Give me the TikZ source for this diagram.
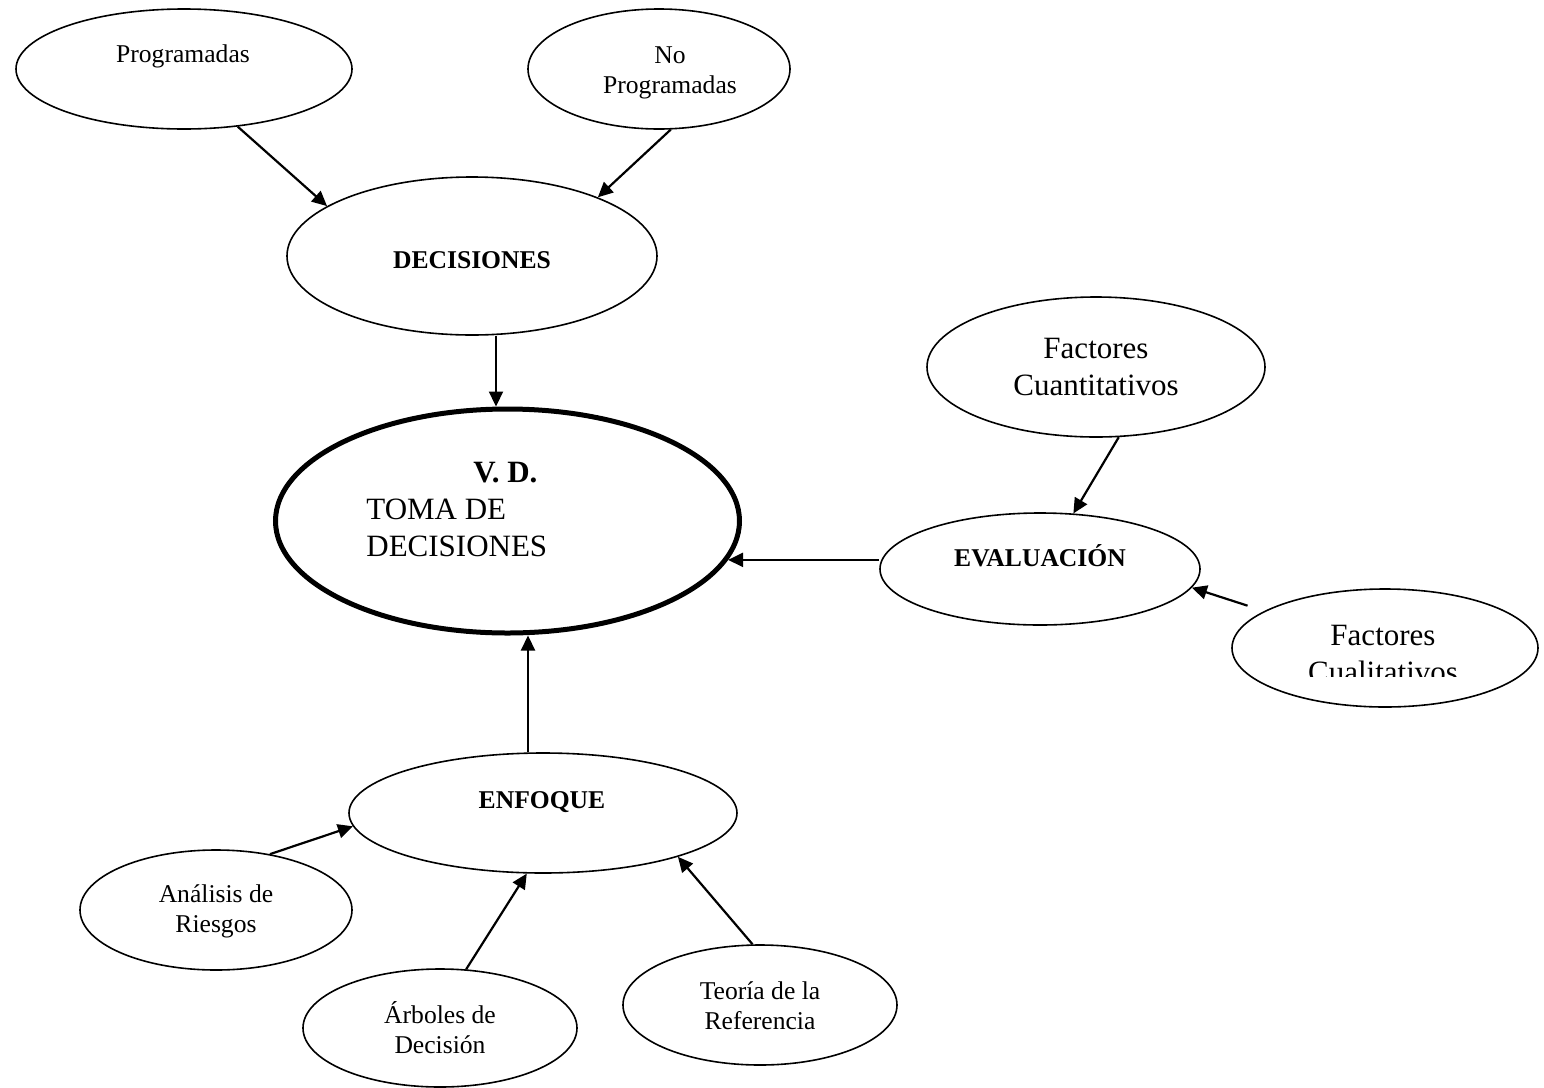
\documentclass[tikz,border=0pt]{standalone}
\usepackage{fontspec}
\setmainfont{Liberation Serif}
\usetikzlibrary{shapes.geometric,arrows.meta}

% two centred lines whose baseline is the first line's baseline
\newcommand\twolines[2]{\begin{tabular}[t]{@{}c@{}}#1\\#2\end{tabular}}

\tikzset{
  oval/.style={draw, ellipse, line width=0.8pt, inner sep=0pt},
  arr/.style={-{Triangle[length=7.5pt,width=7pt]}, line width=1.1pt},
  smalltxt/.style={font=\fontsize{12.8}{15}\selectfont, anchor=base, inner sep=0pt},
  bigtxt/.style={font=\fontsize{15.5}{18.5}\selectfont, anchor=base, inner sep=0pt},
}

\begin{document}
\begin{tikzpicture}[x=0.5pt, y=-0.5pt]
  \fill[white] (0,0) rectangle (1544,1088);
  \useasboundingbox (0,0) rectangle (1544,1088);

  % ellipses (minimum width/height in pt = radii in units)
  \node[oval, minimum width=168pt, minimum height=60pt] (prog)   at (184,69)   {};
  \node[oval, minimum width=131pt, minimum height=60pt] (noprog) at (659,69)   {};
  \node[oval, minimum width=185pt, minimum height=79pt] (dec)    at (472,256)  {};
  \node[oval, line width=2.5pt, minimum width=232pt, minimum height=112pt] (vd) at (507.5,521) {};
  \node[oval, minimum width=169pt, minimum height=70pt] (cuant)  at (1096,367) {};
  \node[oval, minimum width=160pt, minimum height=56pt] (eval)   at (1040,569) {};
  \node[oval, minimum width=153pt, minimum height=59pt] (cual)   at (1385,648) {};
  \node[oval, minimum width=194pt, minimum height=60pt] (enf)    at (543,813)  {};
  \node[oval, minimum width=136pt, minimum height=60pt] (anal)   at (216,910)  {};
  \node[oval, minimum width=137pt, minimum height=59pt] (arb)    at (440,1028) {};
  \node[oval, minimum width=137pt, minimum height=60pt] (teo)    at (760,1005) {};

  % texts
  \node[smalltxt] (progT)   at (183,62)   {Programadas};
  \node[smalltxt] (noprogT) at (670,63)   {\twolines{No}{Programadas}};
  \node[smalltxt] (decT)    at (472,268)  {\textbf{DECISIONES}};
  \node[bigtxt, anchor=base west] (vdT) at (366,482)
    {\begin{tabular}[t]{@{}l@{}}\hspace*{53.5pt}\textbf{V. D.}\\TOMA DE\\DECISIONES\end{tabular}};
  \node[bigtxt]   (cuantT)  at (1096,358) {\twolines{Factores}{Cuantitativos}};
  \node[smalltxt] (evalT)   at (1040,566) {\textbf{EVALUACIÓN}};
  \begin{scope}
    \clip (1232,583) rectangle (1538,676);
    \node[bigtxt] (cualT)   at (1383,645) {\twolines{Factores}{Cualitativos}};
  \end{scope}
  \node[smalltxt] (enfT)    at (542,808)  {\textbf{ENFOQUE}};
  \node[smalltxt] (analT)   at (216,902)  {\twolines{Análisis de}{Riesgos}};
  \node[smalltxt] (arbT)    at (440,1023) {\twolines{Árboles de}{Decisión}};
  \node[smalltxt] (teoT)    at (760,999)  {\twolines{Teoría de la}{Referencia}};

  % connectors
  \draw[arr] (prog.-47.4) -- (dec.161);
  \draw[arr] (noprog.-79) -- (dec.25.2);
  \draw[arr] ([xshift=12pt]dec.south) -- ([xshift=12pt]dec.south |- vd.north);
  \draw[arr] (eval.west |- vd.-10.6) -- (vd.-10.6);
  \draw[arr] (cuant.-72.3) -- (eval.59.5);
  \draw[arr, shorten <=8.7pt] (cual.163.7) -- (eval.-7);
  \draw[arr] ([xshift=-7.5pt]enf.north) -- ([xshift=-7.5pt]enf.north |- vd.south);
  \draw[arr] (anal.46.5) -- (enf.-176);
  \draw[arr] (arb.66.7) -- (enf.-105);
  \draw[arr] (teo.97.7) -- (enf.-18);
\end{tikzpicture}
\end{document}
